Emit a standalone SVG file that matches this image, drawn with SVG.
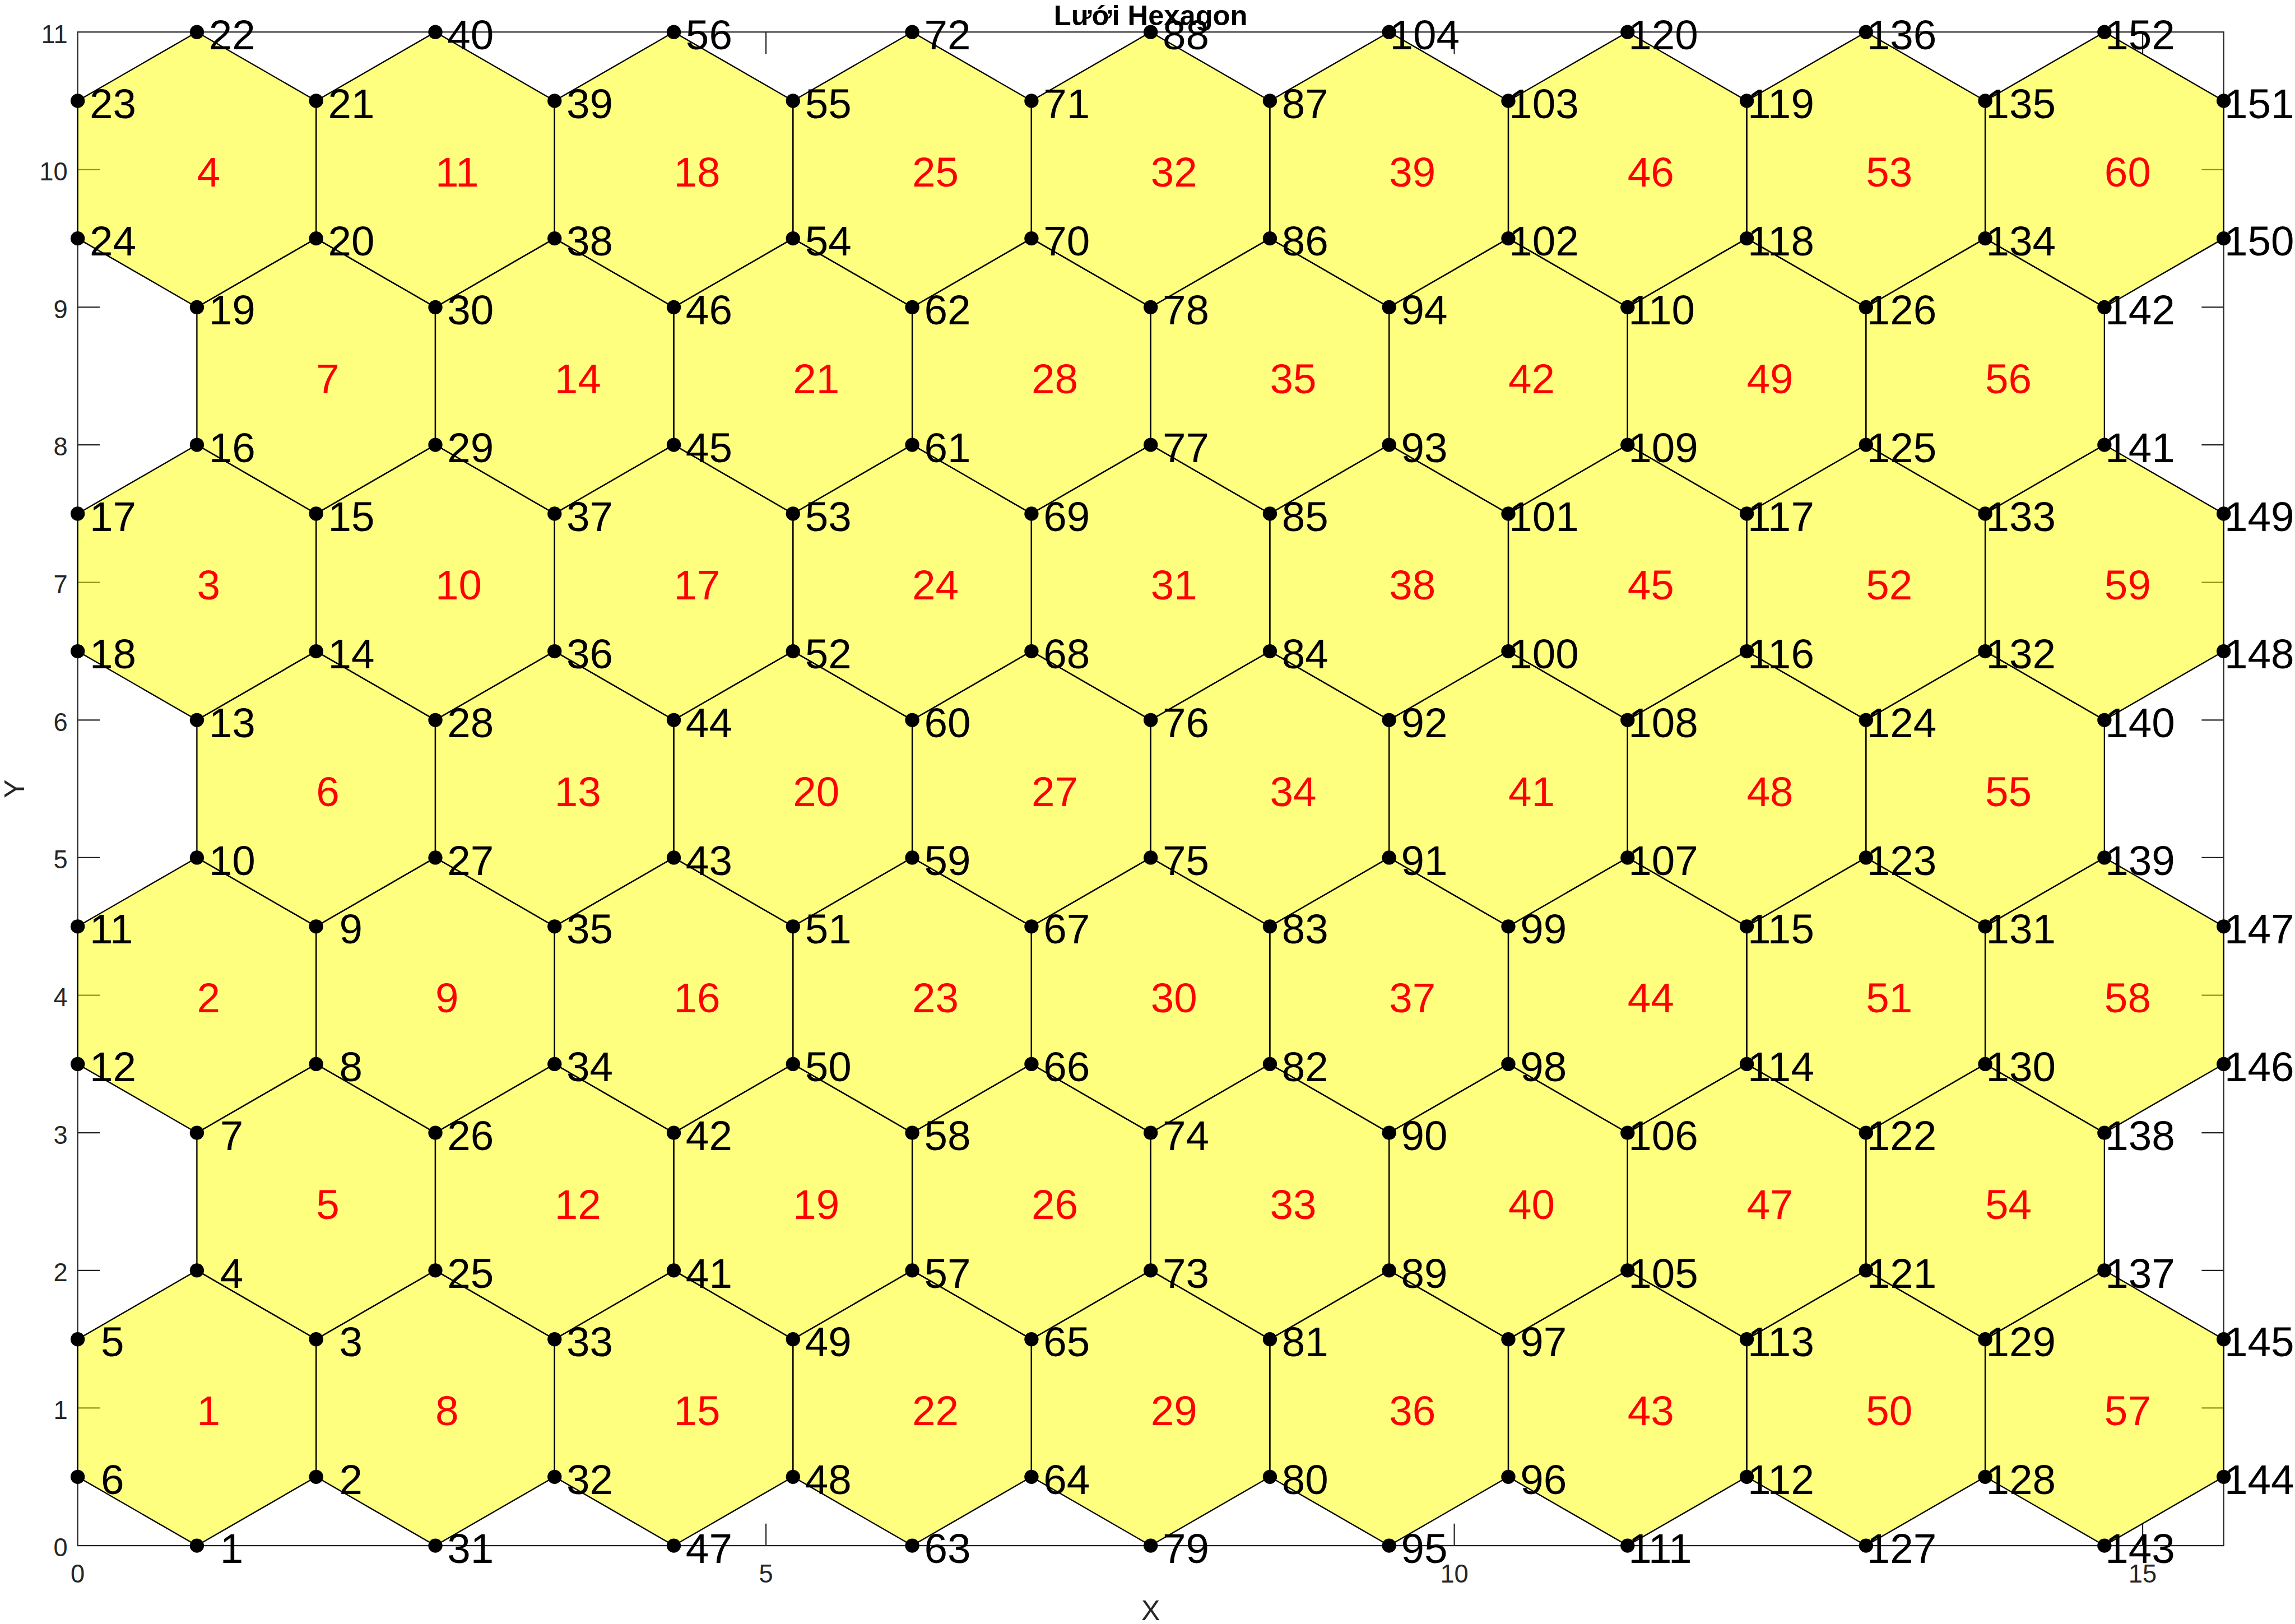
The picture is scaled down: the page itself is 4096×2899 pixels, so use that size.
<svg xmlns="http://www.w3.org/2000/svg" xmlns:xlink="http://www.w3.org/1999/xlink" width="4096" height="2899" viewBox="0 0 4096 2899">
<style>
.h use{fill:#ffff00;fill-opacity:0.5;stroke:#000;stroke-width:3.5;stroke-linejoin:round}
.h text{font-family:"Liberation Sans",Arial,sans-serif;font-size:112px;fill:#ff0000}
.v circle{fill:#000}
.v text{font-family:"Liberation Sans",Arial,sans-serif;font-size:112px;fill:#000}
.ax{stroke:#262626;stroke-width:3.3;fill:none}
.tl{font-family:"Liberation Sans",Arial,sans-serif;font-size:68px;fill:#262626}
.lbl{font-family:"Liberation Sans",Arial,sans-serif;font-size:75px;fill:#262626;text-anchor:middle}
.ttl{font-family:"Liberation Sans",Arial,sans-serif;font-size:76px;font-weight:bold;fill:#000;text-anchor:middle}
</style>
<defs>
<polygon id="hx" points="0,-368.5 319.22,-184.25 319.22,184.25 0,368.5 -319.22,184.25 -319.22,-184.25"/>
</defs>
<rect width="4096" height="2899" fill="#fff"/>
<g transform="scale(0.66656)">
<g id="axes">
<path class="ax" d="M208 3770.8h59M208 3402.3h59M208 3033.8h59M208 2665.3h59M208 2296.8h59M208 1928.3h59M208 1559.8h59M208 1191.3h59M208 822.8h59M208 454.3h59M5954 3770.8h-59M5954 3402.3h-59M5954 3033.8h-59M5954 2665.3h-59M5954 2296.8h-59M5954 1928.3h-59M5954 1559.8h-59M5954 1191.3h-59M5954 822.8h-59M5954 454.3h-59M2051 4139.3v-59M3894 4139.3v-59M5737 4139.3v-59M2051 85.8v59M3894 85.8v59M5737 85.8v59"/>
<rect class="ax" x="208" y="85.8" width="5746" height="4053.5"/>
<g class="tl" text-anchor="end">
<text x="181" y="4168.3">0</text><text x="181" y="3799.8">1</text><text x="181" y="3431.3">2</text><text x="181" y="3062.8">3</text><text x="181" y="2694.3">4</text><text x="181" y="2325.8">5</text><text x="181" y="1957.3">6</text><text x="181" y="1588.8">7</text><text x="181" y="1220.3">8</text><text x="181" y="851.8">9</text><text x="181" y="483.3">10</text><text x="181" y="114.8">11</text>
</g>
<g class="tl" text-anchor="middle">
<text x="208" y="4238">0</text><text x="2051" y="4238">5</text><text x="3894" y="4238">10</text><text x="5737" y="4238">15</text>
</g>
<text class="lbl" x="3081" y="4338">X</text>
<text class="lbl" transform="translate(65,2112.6) rotate(-90)">Y</text>
<text class="ttl" x="3081" y="67">Lưới Hexagon</text>
</g>
<g id="hexagons" class="h">
<g id="hex1" transform="translate(527.2,3770.8)"><use xlink:href="#hx"/><text y="46">1</text></g>
<g id="hex2" transform="translate(527.2,2665.3)"><use xlink:href="#hx"/><text y="46">2</text></g>
<g id="hex3" transform="translate(527.2,1559.8)"><use xlink:href="#hx"/><text y="46">3</text></g>
<g id="hex4" transform="translate(527.2,454.3)"><use xlink:href="#hx"/><text y="46">4</text></g>
<g id="hex5" transform="translate(846.4,3218.1)"><use xlink:href="#hx"/><text y="46">5</text></g>
<g id="hex6" transform="translate(846.4,2112.6)"><use xlink:href="#hx"/><text y="46">6</text></g>
<g id="hex7" transform="translate(846.4,1007.1)"><use xlink:href="#hx"/><text y="46">7</text></g>
<g id="hex8" transform="translate(1165.7,3770.8)"><use xlink:href="#hx"/><text y="46">8</text></g>
<g id="hex9" transform="translate(1165.7,2665.3)"><use xlink:href="#hx"/><text y="46">9</text></g>
<g id="hex10" transform="translate(1165.7,1559.8)"><use xlink:href="#hx"/><text y="46">10</text></g>
<g id="hex11" transform="translate(1165.7,454.3)"><use xlink:href="#hx"/><text y="46">11</text></g>
<g id="hex12" transform="translate(1484.9,3218.1)"><use xlink:href="#hx"/><text y="46">12</text></g>
<g id="hex13" transform="translate(1484.9,2112.6)"><use xlink:href="#hx"/><text y="46">13</text></g>
<g id="hex14" transform="translate(1484.9,1007.1)"><use xlink:href="#hx"/><text y="46">14</text></g>
<g id="hex15" transform="translate(1804.1,3770.8)"><use xlink:href="#hx"/><text y="46">15</text></g>
<g id="hex16" transform="translate(1804.1,2665.3)"><use xlink:href="#hx"/><text y="46">16</text></g>
<g id="hex17" transform="translate(1804.1,1559.8)"><use xlink:href="#hx"/><text y="46">17</text></g>
<g id="hex18" transform="translate(1804.1,454.3)"><use xlink:href="#hx"/><text y="46">18</text></g>
<g id="hex19" transform="translate(2123.3,3218.1)"><use xlink:href="#hx"/><text y="46">19</text></g>
<g id="hex20" transform="translate(2123.3,2112.6)"><use xlink:href="#hx"/><text y="46">20</text></g>
<g id="hex21" transform="translate(2123.3,1007.1)"><use xlink:href="#hx"/><text y="46">21</text></g>
<g id="hex22" transform="translate(2442.5,3770.8)"><use xlink:href="#hx"/><text y="46">22</text></g>
<g id="hex23" transform="translate(2442.5,2665.3)"><use xlink:href="#hx"/><text y="46">23</text></g>
<g id="hex24" transform="translate(2442.5,1559.8)"><use xlink:href="#hx"/><text y="46">24</text></g>
<g id="hex25" transform="translate(2442.5,454.3)"><use xlink:href="#hx"/><text y="46">25</text></g>
<g id="hex26" transform="translate(2761.8,3218.1)"><use xlink:href="#hx"/><text y="46">26</text></g>
<g id="hex27" transform="translate(2761.8,2112.6)"><use xlink:href="#hx"/><text y="46">27</text></g>
<g id="hex28" transform="translate(2761.8,1007.1)"><use xlink:href="#hx"/><text y="46">28</text></g>
<g id="hex29" transform="translate(3081,3770.8)"><use xlink:href="#hx"/><text y="46">29</text></g>
<g id="hex30" transform="translate(3081,2665.3)"><use xlink:href="#hx"/><text y="46">30</text></g>
<g id="hex31" transform="translate(3081,1559.8)"><use xlink:href="#hx"/><text y="46">31</text></g>
<g id="hex32" transform="translate(3081,454.3)"><use xlink:href="#hx"/><text y="46">32</text></g>
<g id="hex33" transform="translate(3400.2,3218.1)"><use xlink:href="#hx"/><text y="46">33</text></g>
<g id="hex34" transform="translate(3400.2,2112.6)"><use xlink:href="#hx"/><text y="46">34</text></g>
<g id="hex35" transform="translate(3400.2,1007.1)"><use xlink:href="#hx"/><text y="46">35</text></g>
<g id="hex36" transform="translate(3719.4,3770.8)"><use xlink:href="#hx"/><text y="46">36</text></g>
<g id="hex37" transform="translate(3719.4,2665.3)"><use xlink:href="#hx"/><text y="46">37</text></g>
<g id="hex38" transform="translate(3719.4,1559.8)"><use xlink:href="#hx"/><text y="46">38</text></g>
<g id="hex39" transform="translate(3719.4,454.3)"><use xlink:href="#hx"/><text y="46">39</text></g>
<g id="hex40" transform="translate(4038.6,3218.1)"><use xlink:href="#hx"/><text y="46">40</text></g>
<g id="hex41" transform="translate(4038.6,2112.6)"><use xlink:href="#hx"/><text y="46">41</text></g>
<g id="hex42" transform="translate(4038.6,1007.1)"><use xlink:href="#hx"/><text y="46">42</text></g>
<g id="hex43" transform="translate(4357.9,3770.8)"><use xlink:href="#hx"/><text y="46">43</text></g>
<g id="hex44" transform="translate(4357.9,2665.3)"><use xlink:href="#hx"/><text y="46">44</text></g>
<g id="hex45" transform="translate(4357.9,1559.8)"><use xlink:href="#hx"/><text y="46">45</text></g>
<g id="hex46" transform="translate(4357.9,454.3)"><use xlink:href="#hx"/><text y="46">46</text></g>
<g id="hex47" transform="translate(4677.1,3218.1)"><use xlink:href="#hx"/><text y="46">47</text></g>
<g id="hex48" transform="translate(4677.1,2112.6)"><use xlink:href="#hx"/><text y="46">48</text></g>
<g id="hex49" transform="translate(4677.1,1007.1)"><use xlink:href="#hx"/><text y="46">49</text></g>
<g id="hex50" transform="translate(4996.3,3770.8)"><use xlink:href="#hx"/><text y="46">50</text></g>
<g id="hex51" transform="translate(4996.3,2665.3)"><use xlink:href="#hx"/><text y="46">51</text></g>
<g id="hex52" transform="translate(4996.3,1559.8)"><use xlink:href="#hx"/><text y="46">52</text></g>
<g id="hex53" transform="translate(4996.3,454.3)"><use xlink:href="#hx"/><text y="46">53</text></g>
<g id="hex54" transform="translate(5315.5,3218.1)"><use xlink:href="#hx"/><text y="46">54</text></g>
<g id="hex55" transform="translate(5315.5,2112.6)"><use xlink:href="#hx"/><text y="46">55</text></g>
<g id="hex56" transform="translate(5315.5,1007.1)"><use xlink:href="#hx"/><text y="46">56</text></g>
<g id="hex57" transform="translate(5634.7,3770.8)"><use xlink:href="#hx"/><text y="46">57</text></g>
<g id="hex58" transform="translate(5634.7,2665.3)"><use xlink:href="#hx"/><text y="46">58</text></g>
<g id="hex59" transform="translate(5634.7,1559.8)"><use xlink:href="#hx"/><text y="46">59</text></g>
<g id="hex60" transform="translate(5634.7,454.3)"><use xlink:href="#hx"/><text y="46">60</text></g>
</g>
<g id="vertices" class="v">
<g id="n6" transform="translate(208,3955.1)"><circle r="19"/><text x="62" y="46">6</text></g>
<g id="n5" transform="translate(208,3586.6)"><circle r="19"/><text x="62" y="46">5</text></g>
<g id="n12" transform="translate(208,2849.6)"><circle r="19"/><text x="32" y="46">12</text></g>
<g id="n11" transform="translate(208,2481.1)"><circle r="19"/><text x="32" y="46">11</text></g>
<g id="n18" transform="translate(208,1744.1)"><circle r="19"/><text x="32" y="46">18</text></g>
<g id="n17" transform="translate(208,1375.6)"><circle r="19"/><text x="32" y="46">17</text></g>
<g id="n24" transform="translate(208,638.6)"><circle r="19"/><text x="32" y="46">24</text></g>
<g id="n23" transform="translate(208,270.1)"><circle r="19"/><text x="32" y="46">23</text></g>
<g id="n1" transform="translate(527.2,4139.3)"><circle r="19"/><text x="62" y="46">1</text></g>
<g id="n4" transform="translate(527.2,3402.3)"><circle r="19"/><text x="62" y="46">4</text></g>
<g id="n7" transform="translate(527.2,3033.8)"><circle r="19"/><text x="62" y="46">7</text></g>
<g id="n10" transform="translate(527.2,2296.8)"><circle r="19"/><text x="32" y="46">10</text></g>
<g id="n13" transform="translate(527.2,1928.3)"><circle r="19"/><text x="32" y="46">13</text></g>
<g id="n16" transform="translate(527.2,1191.3)"><circle r="19"/><text x="32" y="46">16</text></g>
<g id="n19" transform="translate(527.2,822.8)"><circle r="19"/><text x="32" y="46">19</text></g>
<g id="n22" transform="translate(527.2,85.8)"><circle r="19"/><text x="32" y="46">22</text></g>
<g id="n2" transform="translate(846.4,3955.1)"><circle r="19"/><text x="62" y="46">2</text></g>
<g id="n3" transform="translate(846.4,3586.6)"><circle r="19"/><text x="62" y="46">3</text></g>
<g id="n8" transform="translate(846.4,2849.6)"><circle r="19"/><text x="62" y="46">8</text></g>
<g id="n9" transform="translate(846.4,2481.1)"><circle r="19"/><text x="62" y="46">9</text></g>
<g id="n14" transform="translate(846.4,1744.1)"><circle r="19"/><text x="32" y="46">14</text></g>
<g id="n15" transform="translate(846.4,1375.6)"><circle r="19"/><text x="32" y="46">15</text></g>
<g id="n20" transform="translate(846.4,638.6)"><circle r="19"/><text x="32" y="46">20</text></g>
<g id="n21" transform="translate(846.4,270.1)"><circle r="19"/><text x="32" y="46">21</text></g>
<g id="n31" transform="translate(1165.7,4139.3)"><circle r="19"/><text x="32" y="46">31</text></g>
<g id="n25" transform="translate(1165.7,3402.3)"><circle r="19"/><text x="32" y="46">25</text></g>
<g id="n26" transform="translate(1165.7,3033.8)"><circle r="19"/><text x="32" y="46">26</text></g>
<g id="n27" transform="translate(1165.7,2296.8)"><circle r="19"/><text x="32" y="46">27</text></g>
<g id="n28" transform="translate(1165.7,1928.3)"><circle r="19"/><text x="32" y="46">28</text></g>
<g id="n29" transform="translate(1165.7,1191.3)"><circle r="19"/><text x="32" y="46">29</text></g>
<g id="n30" transform="translate(1165.7,822.8)"><circle r="19"/><text x="32" y="46">30</text></g>
<g id="n40" transform="translate(1165.7,85.8)"><circle r="19"/><text x="32" y="46">40</text></g>
<g id="n32" transform="translate(1484.9,3955.1)"><circle r="19"/><text x="32" y="46">32</text></g>
<g id="n33" transform="translate(1484.9,3586.6)"><circle r="19"/><text x="32" y="46">33</text></g>
<g id="n34" transform="translate(1484.9,2849.6)"><circle r="19"/><text x="32" y="46">34</text></g>
<g id="n35" transform="translate(1484.9,2481.1)"><circle r="19"/><text x="32" y="46">35</text></g>
<g id="n36" transform="translate(1484.9,1744.1)"><circle r="19"/><text x="32" y="46">36</text></g>
<g id="n37" transform="translate(1484.9,1375.6)"><circle r="19"/><text x="32" y="46">37</text></g>
<g id="n38" transform="translate(1484.9,638.6)"><circle r="19"/><text x="32" y="46">38</text></g>
<g id="n39" transform="translate(1484.9,270.1)"><circle r="19"/><text x="32" y="46">39</text></g>
<g id="n47" transform="translate(1804.1,4139.3)"><circle r="19"/><text x="32" y="46">47</text></g>
<g id="n41" transform="translate(1804.1,3402.3)"><circle r="19"/><text x="32" y="46">41</text></g>
<g id="n42" transform="translate(1804.1,3033.8)"><circle r="19"/><text x="32" y="46">42</text></g>
<g id="n43" transform="translate(1804.1,2296.8)"><circle r="19"/><text x="32" y="46">43</text></g>
<g id="n44" transform="translate(1804.1,1928.3)"><circle r="19"/><text x="32" y="46">44</text></g>
<g id="n45" transform="translate(1804.1,1191.3)"><circle r="19"/><text x="32" y="46">45</text></g>
<g id="n46" transform="translate(1804.1,822.8)"><circle r="19"/><text x="32" y="46">46</text></g>
<g id="n56" transform="translate(1804.1,85.8)"><circle r="19"/><text x="32" y="46">56</text></g>
<g id="n48" transform="translate(2123.3,3955.1)"><circle r="19"/><text x="32" y="46">48</text></g>
<g id="n49" transform="translate(2123.3,3586.6)"><circle r="19"/><text x="32" y="46">49</text></g>
<g id="n50" transform="translate(2123.3,2849.6)"><circle r="19"/><text x="32" y="46">50</text></g>
<g id="n51" transform="translate(2123.3,2481.1)"><circle r="19"/><text x="32" y="46">51</text></g>
<g id="n52" transform="translate(2123.3,1744.1)"><circle r="19"/><text x="32" y="46">52</text></g>
<g id="n53" transform="translate(2123.3,1375.6)"><circle r="19"/><text x="32" y="46">53</text></g>
<g id="n54" transform="translate(2123.3,638.6)"><circle r="19"/><text x="32" y="46">54</text></g>
<g id="n55" transform="translate(2123.3,270.1)"><circle r="19"/><text x="32" y="46">55</text></g>
<g id="n63" transform="translate(2442.5,4139.3)"><circle r="19"/><text x="32" y="46">63</text></g>
<g id="n57" transform="translate(2442.5,3402.3)"><circle r="19"/><text x="32" y="46">57</text></g>
<g id="n58" transform="translate(2442.5,3033.8)"><circle r="19"/><text x="32" y="46">58</text></g>
<g id="n59" transform="translate(2442.5,2296.8)"><circle r="19"/><text x="32" y="46">59</text></g>
<g id="n60" transform="translate(2442.5,1928.3)"><circle r="19"/><text x="32" y="46">60</text></g>
<g id="n61" transform="translate(2442.5,1191.3)"><circle r="19"/><text x="32" y="46">61</text></g>
<g id="n62" transform="translate(2442.5,822.8)"><circle r="19"/><text x="32" y="46">62</text></g>
<g id="n72" transform="translate(2442.5,85.8)"><circle r="19"/><text x="32" y="46">72</text></g>
<g id="n64" transform="translate(2761.8,3955.1)"><circle r="19"/><text x="32" y="46">64</text></g>
<g id="n65" transform="translate(2761.8,3586.6)"><circle r="19"/><text x="32" y="46">65</text></g>
<g id="n66" transform="translate(2761.8,2849.6)"><circle r="19"/><text x="32" y="46">66</text></g>
<g id="n67" transform="translate(2761.8,2481.1)"><circle r="19"/><text x="32" y="46">67</text></g>
<g id="n68" transform="translate(2761.8,1744.1)"><circle r="19"/><text x="32" y="46">68</text></g>
<g id="n69" transform="translate(2761.8,1375.6)"><circle r="19"/><text x="32" y="46">69</text></g>
<g id="n70" transform="translate(2761.8,638.6)"><circle r="19"/><text x="32" y="46">70</text></g>
<g id="n71" transform="translate(2761.8,270.1)"><circle r="19"/><text x="32" y="46">71</text></g>
<g id="n79" transform="translate(3081,4139.3)"><circle r="19"/><text x="32" y="46">79</text></g>
<g id="n73" transform="translate(3081,3402.3)"><circle r="19"/><text x="32" y="46">73</text></g>
<g id="n74" transform="translate(3081,3033.8)"><circle r="19"/><text x="32" y="46">74</text></g>
<g id="n75" transform="translate(3081,2296.8)"><circle r="19"/><text x="32" y="46">75</text></g>
<g id="n76" transform="translate(3081,1928.3)"><circle r="19"/><text x="32" y="46">76</text></g>
<g id="n77" transform="translate(3081,1191.3)"><circle r="19"/><text x="32" y="46">77</text></g>
<g id="n78" transform="translate(3081,822.8)"><circle r="19"/><text x="32" y="46">78</text></g>
<g id="n88" transform="translate(3081,85.8)"><circle r="19"/><text x="32" y="46">88</text></g>
<g id="n80" transform="translate(3400.2,3955.1)"><circle r="19"/><text x="32" y="46">80</text></g>
<g id="n81" transform="translate(3400.2,3586.6)"><circle r="19"/><text x="32" y="46">81</text></g>
<g id="n82" transform="translate(3400.2,2849.6)"><circle r="19"/><text x="32" y="46">82</text></g>
<g id="n83" transform="translate(3400.2,2481.1)"><circle r="19"/><text x="32" y="46">83</text></g>
<g id="n84" transform="translate(3400.2,1744.1)"><circle r="19"/><text x="32" y="46">84</text></g>
<g id="n85" transform="translate(3400.2,1375.6)"><circle r="19"/><text x="32" y="46">85</text></g>
<g id="n86" transform="translate(3400.2,638.6)"><circle r="19"/><text x="32" y="46">86</text></g>
<g id="n87" transform="translate(3400.2,270.1)"><circle r="19"/><text x="32" y="46">87</text></g>
<g id="n95" transform="translate(3719.4,4139.3)"><circle r="19"/><text x="32" y="46">95</text></g>
<g id="n89" transform="translate(3719.4,3402.3)"><circle r="19"/><text x="32" y="46">89</text></g>
<g id="n90" transform="translate(3719.4,3033.8)"><circle r="19"/><text x="32" y="46">90</text></g>
<g id="n91" transform="translate(3719.4,2296.8)"><circle r="19"/><text x="32" y="46">91</text></g>
<g id="n92" transform="translate(3719.4,1928.3)"><circle r="19"/><text x="32" y="46">92</text></g>
<g id="n93" transform="translate(3719.4,1191.3)"><circle r="19"/><text x="32" y="46">93</text></g>
<g id="n94" transform="translate(3719.4,822.8)"><circle r="19"/><text x="32" y="46">94</text></g>
<g id="n104" transform="translate(3719.4,85.8)"><circle r="19"/><text x="2" y="46">104</text></g>
<g id="n96" transform="translate(4038.6,3955.1)"><circle r="19"/><text x="32" y="46">96</text></g>
<g id="n97" transform="translate(4038.6,3586.6)"><circle r="19"/><text x="32" y="46">97</text></g>
<g id="n98" transform="translate(4038.6,2849.6)"><circle r="19"/><text x="32" y="46">98</text></g>
<g id="n99" transform="translate(4038.6,2481.1)"><circle r="19"/><text x="32" y="46">99</text></g>
<g id="n100" transform="translate(4038.6,1744.1)"><circle r="19"/><text x="2" y="46">100</text></g>
<g id="n101" transform="translate(4038.6,1375.6)"><circle r="19"/><text x="2" y="46">101</text></g>
<g id="n102" transform="translate(4038.6,638.6)"><circle r="19"/><text x="2" y="46">102</text></g>
<g id="n103" transform="translate(4038.6,270.1)"><circle r="19"/><text x="2" y="46">103</text></g>
<g id="n111" transform="translate(4357.9,4139.3)"><circle r="19"/><text x="2" y="46">111</text></g>
<g id="n105" transform="translate(4357.9,3402.3)"><circle r="19"/><text x="2" y="46">105</text></g>
<g id="n106" transform="translate(4357.9,3033.8)"><circle r="19"/><text x="2" y="46">106</text></g>
<g id="n107" transform="translate(4357.9,2296.8)"><circle r="19"/><text x="2" y="46">107</text></g>
<g id="n108" transform="translate(4357.9,1928.3)"><circle r="19"/><text x="2" y="46">108</text></g>
<g id="n109" transform="translate(4357.9,1191.3)"><circle r="19"/><text x="2" y="46">109</text></g>
<g id="n110" transform="translate(4357.9,822.8)"><circle r="19"/><text x="2" y="46">110</text></g>
<g id="n120" transform="translate(4357.9,85.8)"><circle r="19"/><text x="2" y="46">120</text></g>
<g id="n112" transform="translate(4677.1,3955.1)"><circle r="19"/><text x="2" y="46">112</text></g>
<g id="n113" transform="translate(4677.1,3586.6)"><circle r="19"/><text x="2" y="46">113</text></g>
<g id="n114" transform="translate(4677.1,2849.6)"><circle r="19"/><text x="2" y="46">114</text></g>
<g id="n115" transform="translate(4677.1,2481.1)"><circle r="19"/><text x="2" y="46">115</text></g>
<g id="n116" transform="translate(4677.1,1744.1)"><circle r="19"/><text x="2" y="46">116</text></g>
<g id="n117" transform="translate(4677.1,1375.6)"><circle r="19"/><text x="2" y="46">117</text></g>
<g id="n118" transform="translate(4677.1,638.6)"><circle r="19"/><text x="2" y="46">118</text></g>
<g id="n119" transform="translate(4677.1,270.1)"><circle r="19"/><text x="2" y="46">119</text></g>
<g id="n127" transform="translate(4996.3,4139.3)"><circle r="19"/><text x="2" y="46">127</text></g>
<g id="n121" transform="translate(4996.3,3402.3)"><circle r="19"/><text x="2" y="46">121</text></g>
<g id="n122" transform="translate(4996.3,3033.8)"><circle r="19"/><text x="2" y="46">122</text></g>
<g id="n123" transform="translate(4996.3,2296.8)"><circle r="19"/><text x="2" y="46">123</text></g>
<g id="n124" transform="translate(4996.3,1928.3)"><circle r="19"/><text x="2" y="46">124</text></g>
<g id="n125" transform="translate(4996.3,1191.3)"><circle r="19"/><text x="2" y="46">125</text></g>
<g id="n126" transform="translate(4996.3,822.8)"><circle r="19"/><text x="2" y="46">126</text></g>
<g id="n136" transform="translate(4996.3,85.8)"><circle r="19"/><text x="2" y="46">136</text></g>
<g id="n128" transform="translate(5315.5,3955.1)"><circle r="19"/><text x="2" y="46">128</text></g>
<g id="n129" transform="translate(5315.5,3586.6)"><circle r="19"/><text x="2" y="46">129</text></g>
<g id="n130" transform="translate(5315.5,2849.6)"><circle r="19"/><text x="2" y="46">130</text></g>
<g id="n131" transform="translate(5315.5,2481.1)"><circle r="19"/><text x="2" y="46">131</text></g>
<g id="n132" transform="translate(5315.5,1744.1)"><circle r="19"/><text x="2" y="46">132</text></g>
<g id="n133" transform="translate(5315.5,1375.6)"><circle r="19"/><text x="2" y="46">133</text></g>
<g id="n134" transform="translate(5315.5,638.6)"><circle r="19"/><text x="2" y="46">134</text></g>
<g id="n135" transform="translate(5315.5,270.1)"><circle r="19"/><text x="2" y="46">135</text></g>
<g id="n143" transform="translate(5634.7,4139.3)"><circle r="19"/><text x="2" y="46">143</text></g>
<g id="n137" transform="translate(5634.7,3402.3)"><circle r="19"/><text x="2" y="46">137</text></g>
<g id="n138" transform="translate(5634.7,3033.8)"><circle r="19"/><text x="2" y="46">138</text></g>
<g id="n139" transform="translate(5634.7,2296.8)"><circle r="19"/><text x="2" y="46">139</text></g>
<g id="n140" transform="translate(5634.7,1928.3)"><circle r="19"/><text x="2" y="46">140</text></g>
<g id="n141" transform="translate(5634.7,1191.3)"><circle r="19"/><text x="2" y="46">141</text></g>
<g id="n142" transform="translate(5634.7,822.8)"><circle r="19"/><text x="2" y="46">142</text></g>
<g id="n152" transform="translate(5634.7,85.8)"><circle r="19"/><text x="2" y="46">152</text></g>
<g id="n144" transform="translate(5954,3955.1)"><circle r="19"/><text x="2" y="46">144</text></g>
<g id="n145" transform="translate(5954,3586.6)"><circle r="19"/><text x="2" y="46">145</text></g>
<g id="n146" transform="translate(5954,2849.6)"><circle r="19"/><text x="2" y="46">146</text></g>
<g id="n147" transform="translate(5954,2481.1)"><circle r="19"/><text x="2" y="46">147</text></g>
<g id="n148" transform="translate(5954,1744.1)"><circle r="19"/><text x="2" y="46">148</text></g>
<g id="n149" transform="translate(5954,1375.6)"><circle r="19"/><text x="2" y="46">149</text></g>
<g id="n150" transform="translate(5954,638.6)"><circle r="19"/><text x="2" y="46">150</text></g>
<g id="n151" transform="translate(5954,270.1)"><circle r="19"/><text x="2" y="46">151</text></g>
</g>
</g>
</svg>
